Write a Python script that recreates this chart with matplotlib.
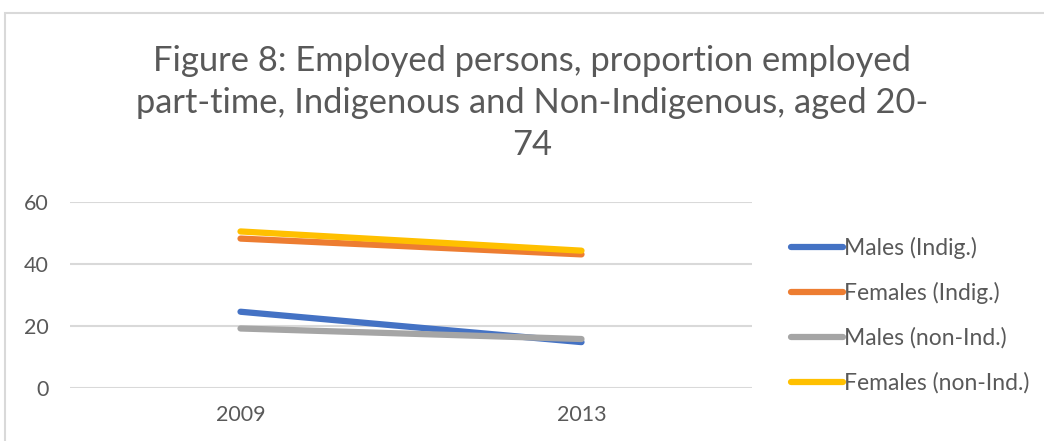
import matplotlib
matplotlib.use("Agg")
import matplotlib.pyplot as plt
from matplotlib.patches import Rectangle

years = ["2009", "2013"]
males_indig = [24.6, 14.8]
females_indig = [48.2, 43.1]
males_non_ind = [19.2, 15.8]
females_non_ind = [50.5, 44.3]

series = [
    ("Males (Indig.)", males_indig, "#4472C4"),
    ("Females (Indig.)", females_indig, "#ED7D31"),
    ("Males (non-Ind.)", males_non_ind, "#A5A5A5"),
    ("Females (non-Ind.)", females_non_ind, "#FFC000"),
]

plt.rcParams['font.family'] = ['Lato', 'DejaVu Sans']

W, H = 1044, 441
fig = plt.figure(figsize=(W / 100, H / 100), dpi=100)

# chart frame (runs off the right and bottom edges)
fig.patches.append(Rectangle((5 / W, -0.1), 1.2, 1.1 - 13.5 / H,
                             transform=fig.transFigure, fill=False,
                             edgecolor="#D9D9D9", lw=1.5))

fig.text(532 / W, 1 - 103 / H,
         "Figure 8: Employed persons, proportion employed\n"
         "part-time, Indigenous and Non-Indigenous, aged 20-\n74",
         ha="center", va="center", fontsize=24.8, color="#595959",
         linespacing=1.38)

ax = fig.add_axes([70 / W, 1 - 388 / H, (752 - 70) / W, (388 - 202) / H])
x = range(len(years))
for name, vals, col in series:
    ax.plot(x, vals, color=col, lw=4.5, solid_capstyle="round", label=name)

ax.set_xlim(-0.5, 1.5)
ax.set_ylim(0, 60)
ax.set_yticks([0, 20, 40, 60])
ax.set_xticks(list(x))
ax.set_xticklabels(years)
ax.grid(axis="y", color="#D9D9D9", lw=1.5)
ax.set_axisbelow(True)
for s in ax.spines.values():
    s.set_visible(False)
ax.tick_params(length=0, labelsize=15.5, labelcolor="#595959")
ax.tick_params(axis="y", pad=15.5)
ax.tick_params(axis="x", pad=12)

fig.legend(loc="upper left", bbox_to_anchor=(770 / W, 1 - 216 / H),
           frameon=False, fontsize=16.5, labelcolor="#595959",
           handlelength=2.3, handletextpad=0.05, labelspacing=1.02)

fig.savefig("out.png", dpi=100)
